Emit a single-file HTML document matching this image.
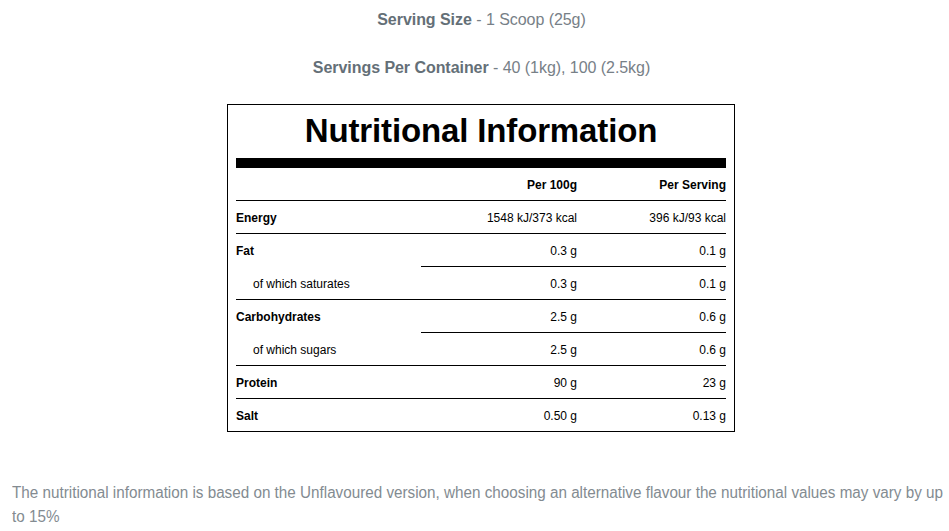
<!DOCTYPE html>
<html>
<head>
<meta charset="utf-8">
<style>
html,body{margin:0;padding:0;background:#fff;}
body{width:949px;height:531px;overflow:hidden;position:relative;font-family:"Liberation Sans",sans-serif;}
.top{position:absolute;left:13px;width:937px;text-align:center;font-size:16px;line-height:16px;color:#778087;white-space:nowrap;letter-spacing:-0.05px;}
.top b{font-weight:bold;color:#646f77;}
.box{position:absolute;left:227px;top:104px;width:506px;height:326px;border:1px solid #000;}
.title{position:absolute;left:0;width:506px;top:9px;letter-spacing:-0.14px;text-align:center;font-size:33px;line-height:33px;font-weight:bold;color:#000;white-space:nowrap;}
.bar{position:absolute;left:8px;top:53px;width:490px;height:10px;background:#000;}
.tbl{position:absolute;left:8px;top:63px;width:490px;}
.row{display:flex;height:33px;font-size:12px;color:#000;}
.row div{box-sizing:border-box;height:33px;line-height:32px;padding-top:1px;white-space:nowrap;}
.c1{width:185px;}
.c2{width:156px;text-align:right;}
.c3{width:149px;text-align:right;}
.bb{border-bottom:1px solid #000;}
.b{font-weight:bold;}
.sub{padding-left:17px;}
.note{position:absolute;left:12px;top:481px;font-size:16px;line-height:24px;color:#838b91;white-space:nowrap;transform:scaleX(0.9525);transform-origin:0 0;}
</style>
</head>
<body>
<div class="top" style="top:12px"><b>Serving Size</b> - 1 Scoop (25g)</div>
<div class="top" style="top:60px"><b>Servings Per Container</b> - 40 (1kg), 100 (2.5kg)</div>
<div class="box">
  <div class="title">Nutritional Information</div>
  <div class="bar"></div>
  <div class="tbl">
    <div class="row"><div class="c1 bb"></div><div class="c2 bb b">Per 100g</div><div class="c3 bb b">Per Serving</div></div>
    <div class="row"><div class="c1 bb b">Energy</div><div class="c2 bb">1548 kJ/373 kcal</div><div class="c3 bb">396 kJ/93 kcal</div></div>
    <div class="row"><div class="c1 b">Fat</div><div class="c2 bb">0.3 g</div><div class="c3 bb">0.1 g</div></div>
    <div class="row"><div class="c1 bb sub">of which saturates</div><div class="c2 bb">0.3 g</div><div class="c3 bb">0.1 g</div></div>
    <div class="row"><div class="c1 b">Carbohydrates</div><div class="c2 bb">2.5 g</div><div class="c3 bb">0.6 g</div></div>
    <div class="row"><div class="c1 bb sub">of which sugars</div><div class="c2 bb">2.5 g</div><div class="c3 bb">0.6 g</div></div>
    <div class="row"><div class="c1 bb b">Protein</div><div class="c2 bb">90 g</div><div class="c3 bb">23 g</div></div>
    <div class="row"><div class="c1 b">Salt</div><div class="c2">0.50 g</div><div class="c3">0.13 g</div></div>
  </div>
</div>
<div class="note">The nutritional information is based on the Unflavoured version, when choosing an alternative flavour the nutritional values may vary by up<br>to 15%</div>
</body>
</html>
